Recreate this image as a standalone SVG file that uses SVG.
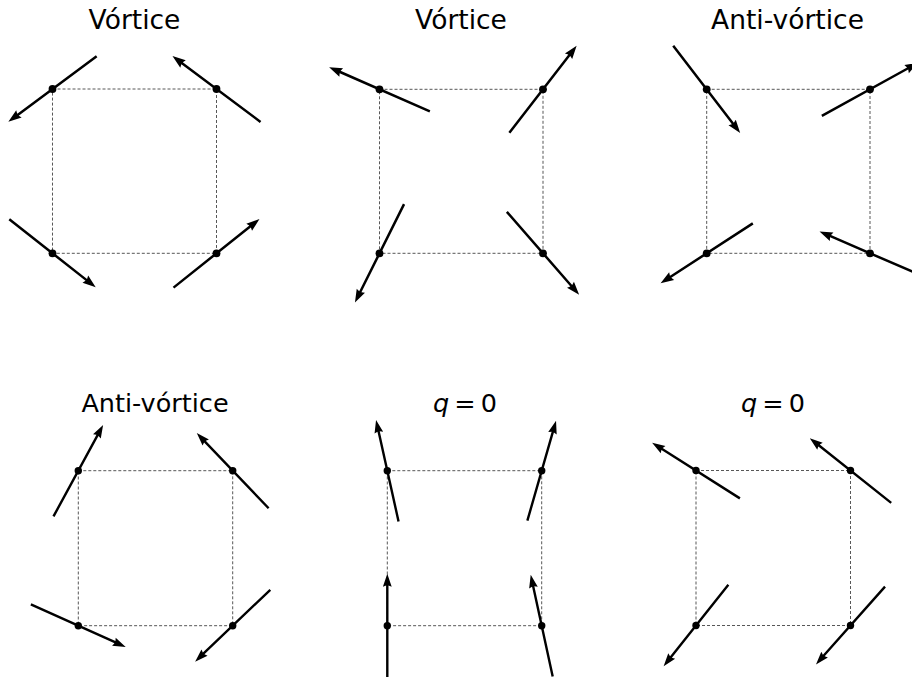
<svg xmlns="http://www.w3.org/2000/svg" xmlns:xlink="http://www.w3.org/1999/xlink" width="912" height="677" viewBox="0 0 912 677">
<style>
.title{font-family:"DejaVu Sans","Liberation Sans",sans-serif;fill:#000;text-anchor:middle}
.t1{font-size:26.5px}
.t2{font-size:25.5px}
.frame{fill:none;stroke:#444;stroke-width:0.9;stroke-dasharray:3,2}
.dot{fill:#000}
.arr{fill:#000}
</style>
<defs>
<path id="arL" class="arr" d="M55,0 L41.8,-4.6 L43,-1.25 L-55,-1.25 L-55,1.25 L43,1.25 L41.8,4.6 Z"/>
<path id="arS" class="arr" d="M52,0 L39,-4.4 L40.2,-1.2 L-52,-1.2 L-52,1.2 L40.2,1.2 L39,4.4 Z"/>
</defs>
<rect width="912" height="677" fill="#fff"/>

<g id="titles">
<text class="title t1" x="134.5" y="28.5">Vórtice</text>
<text class="title t1" x="461" y="28.5">Vórtice</text>
<text class="title t1" x="787.5" y="28.5">Anti-vórtice</text>
<text class="title t2" x="155" y="411.7">Anti-vórtice</text>
<text class="title t2" x="465" y="411.7" word-spacing="-3"><tspan font-style="italic">q</tspan> = 0</text>
<text class="title t2" x="773" y="411.7" word-spacing="-3"><tspan font-style="italic">q</tspan> = 0</text>
</g>

<g id="connectors">
<rect class="frame" x="52.5" y="89" width="164" height="164.3"/>
<rect class="frame" x="379.5" y="89.3" width="163.5" height="164"/>
<rect class="frame" x="706.7" y="89.3" width="163.3" height="164"/>
<rect class="frame" x="78.3" y="470.7" width="154.4" height="155"/>
<rect class="frame" x="387.3" y="470.7" width="154.4" height="155"/>
<rect class="frame" x="696" y="470.5" width="154.5" height="155"/>
</g>

<!-- Panel 1 -->
<g id="p1-tl"><use xlink:href="#arL" transform="translate(52.5,89) rotate(143.4)"/><circle class="dot" cx="52.5" cy="89" r="3.9"/></g>
<g id="p1-tr"><use xlink:href="#arL" transform="translate(216.5,89) rotate(216.8)"/><circle class="dot" cx="216.5" cy="89" r="3.9"/></g>
<g id="p1-bl"><use xlink:href="#arL" transform="translate(52.5,253.3) rotate(38.2)"/><circle class="dot" cx="52.5" cy="253.3" r="3.9"/></g>
<g id="p1-br"><use xlink:href="#arL" transform="translate(216.5,253.3) rotate(-38.6)"/><circle class="dot" cx="216.5" cy="253.3" r="3.9"/></g>

<!-- Panel 2 -->
<g id="p2-tl"><use xlink:href="#arL" transform="translate(379.5,89.3) rotate(203.7)"/><circle class="dot" cx="379.5" cy="89.3" r="3.9"/></g>
<g id="p2-tr"><use xlink:href="#arL" transform="translate(543,89.3) rotate(-52.3)"/><circle class="dot" cx="543" cy="89.3" r="3.9"/></g>
<g id="p2-bl"><use xlink:href="#arL" transform="translate(379.5,253.3) rotate(116.5)"/><circle class="dot" cx="379.5" cy="253.3" r="3.9"/></g>
<g id="p2-br"><use xlink:href="#arL" transform="translate(543,253.3) rotate(48.9)"/><circle class="dot" cx="543" cy="253.3" r="3.9"/></g>

<!-- Panel 3 -->
<g id="p3-tl"><use xlink:href="#arL" transform="translate(706.7,89.3) rotate(52.5)"/><circle class="dot" cx="706.7" cy="89.3" r="3.9"/></g>
<g id="p3-tr"><use xlink:href="#arL" transform="translate(870,89.3) rotate(-28.9)"/><circle class="dot" cx="870" cy="89.3" r="3.9"/></g>
<g id="p3-bl"><use xlink:href="#arL" transform="translate(706.7,253.3) rotate(147)"/><circle class="dot" cx="706.7" cy="253.3" r="3.9"/></g>
<g id="p3-br"><use xlink:href="#arL" transform="translate(870,253.3) rotate(203.4)"/><circle class="dot" cx="870" cy="253.3" r="3.9"/></g>

<!-- Panel 4 -->
<g id="p4-tl"><use xlink:href="#arS" transform="translate(78.3,470.7) rotate(-61.5)"/><circle class="dot" cx="78.3" cy="470.7" r="3.7"/></g>
<g id="p4-tr"><use xlink:href="#arS" transform="translate(232.7,470.7) rotate(226.3)"/><circle class="dot" cx="232.7" cy="470.7" r="3.7"/></g>
<g id="p4-bl"><use xlink:href="#arS" transform="translate(78.3,625.7) rotate(24.2)"/><circle class="dot" cx="78.3" cy="625.7" r="3.7"/></g>
<g id="p4-br"><use xlink:href="#arS" transform="translate(232.7,625.7) rotate(136.3)"/><circle class="dot" cx="232.7" cy="625.7" r="3.7"/></g>

<!-- Panel 5 -->
<g id="p5-tl"><use xlink:href="#arS" transform="translate(387.3,470.7) rotate(-102.5)"/><circle class="dot" cx="387.3" cy="470.7" r="3.7"/></g>
<g id="p5-tr"><use xlink:href="#arS" transform="translate(541.7,470.7) rotate(-74)"/><circle class="dot" cx="541.7" cy="470.7" r="3.7"/></g>
<g id="p5-bl"><use xlink:href="#arS" transform="translate(387.3,625.7) rotate(-90)"/><circle class="dot" cx="387.3" cy="625.7" r="3.7"/></g>
<g id="p5-br"><use xlink:href="#arS" transform="translate(541.7,625.7) rotate(-102.2)"/><circle class="dot" cx="541.7" cy="625.7" r="3.7"/></g>

<!-- Panel 6 -->
<g id="p6-tl"><use xlink:href="#arS" transform="translate(696,470.5) rotate(212.4)"/><circle class="dot" cx="696" cy="470.5" r="3.7"/></g>
<g id="p6-tr"><use xlink:href="#arS" transform="translate(850.5,470.5) rotate(218.5)"/><circle class="dot" cx="850.5" cy="470.5" r="3.7"/></g>
<g id="p6-bl"><use xlink:href="#arS" transform="translate(696,625.5) rotate(128.5)"/><circle class="dot" cx="696" cy="625.5" r="3.7"/></g>
<g id="p6-br"><use xlink:href="#arS" transform="translate(850.5,625.5) rotate(131.6)"/><circle class="dot" cx="850.5" cy="625.5" r="3.7"/></g>
</svg>
